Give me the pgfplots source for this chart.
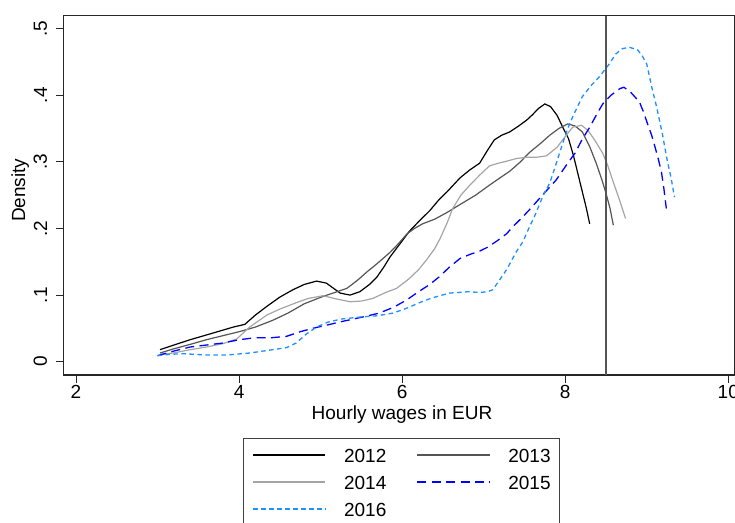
\documentclass[border=0pt]{standalone}
\usepackage{fontspec}
\setmainfont{Liberation Sans}
\usepackage{pgfplots}
\pgfplotsset{compat=1.18}

\definecolor{gsdark}{RGB}{85,85,85}
\definecolor{gslight}{RGB}{165,165,165}
\definecolor{lblue}{RGB}{30,144,255}

\begin{document}
\begin{tikzpicture}
\useasboundingbox (0pt,0pt) rectangle (735pt,522pt);
\begin{axis}[
    at={(63.8pt,147pt)}, anchor=south west,
    scale only axis,
    width=671pt, height=359.3pt,
    xmin=1.85, xmax=10.08,
    ymin=-0.02, ymax=0.5195,
    font=\fontsize{19}{22}\selectfont,
    /pgf/number format/assume math mode=true,
    axis line style={line width=1.1pt, black!85},
    tick pos=left,
    tick align=outside,
    major tick length=8pt,
    tick style={line width=1pt, black!85},
    xtick={2,4,6,8,10},
    ytick={0,0.1,0.2,0.3,0.4,0.5},
    yticklabels={0,.1,.2,.3,.4,.5},
    yticklabel style={rotate=90, anchor=south, inner sep=8.5pt},
    xticklabel style={inner sep=2pt},
    xlabel={Hourly wages in EUR},
    ylabel={Density},
    xlabel style={at={(axis description cs:0.504,0)}, anchor=center, yshift=-40pt},
    ylabel style={at={(axis description cs:-0.065,0.514)}, anchor=center},
    legend columns=2,
    legend image code/.code={\draw[#1, line width=2pt] (0pt,0.5pt) -- (72.3pt,0.5pt);},
    legend style={at={(axis description cs:0.267,-0.1753)}, anchor=north west,
        draw=black!75, line width=0.8pt,
        inner xsep=8.7pt, inner ysep=10.2pt,
        row sep=13.4pt,
        nodes={inner xsep=0pt, inner ysep=0pt, text height=13.6pt, text depth=0pt},
        /tikz/every odd column/.append style={column sep=17.7pt},
        /tikz/every even column/.append style={column sep=30pt}},
]
\addplot[black, line width=1.2pt] coordinates {
(3.03,0.018) (3.2,0.025) (3.4,0.033) (3.68,0.043) (3.93,0.052) (4.07,0.056)
(4.2,0.07) (4.34,0.083) (4.5,0.097) (4.66,0.108) (4.8,0.116) (4.95,0.121)
(5.07,0.118) (5.16,0.11) (5.24,0.103) (5.36,0.1) (5.48,0.105) (5.6,0.116)
(5.69,0.127) (5.78,0.143) (5.85,0.157) (5.93,0.17) (6.01,0.183) (6.09,0.196)
(6.2,0.21) (6.34,0.227) (6.45,0.243) (6.55,0.255) (6.71,0.276) (6.83,0.288)
(6.95,0.298) (7.05,0.318) (7.13,0.333) (7.22,0.34) (7.32,0.345) (7.43,0.354)
(7.53,0.363) (7.6,0.371) (7.67,0.38) (7.75,0.387) (7.82,0.383) (7.9,0.37)
(7.97,0.352) (8.04,0.335) (8.1,0.31) (8.16,0.28) (8.21,0.255) (8.26,0.23)
(8.3,0.207)
};
\addlegendentry{2012}
\addplot[gsdark, line width=1.2pt] coordinates {
(3.03,0.013) (3.19,0.019) (3.4,0.026) (3.6,0.033) (3.8,0.039) (4.0,0.045)
(4.2,0.052) (4.41,0.062) (4.6,0.073) (4.8,0.087) (5.03,0.098) (5.2,0.105)
(5.32,0.11) (5.45,0.122) (5.57,0.135) (5.7,0.148) (5.85,0.164) (5.96,0.178)
(6.06,0.192) (6.15,0.2) (6.25,0.207) (6.4,0.214) (6.55,0.224) (6.71,0.236)
(6.9,0.25) (7.07,0.265) (7.2,0.276) (7.32,0.286) (7.45,0.3) (7.56,0.314)
(7.7,0.328) (7.81,0.34) (7.92,0.35) (8.03,0.357) (8.12,0.354) (8.21,0.345)
(8.3,0.323) (8.38,0.298) (8.45,0.273) (8.5,0.253) (8.55,0.23) (8.59,0.205)
};
\addlegendentry{2013}
\addplot[gslight, line width=1.2pt] coordinates {
(3.03,0.011) (3.19,0.013) (3.4,0.018) (3.6,0.022) (3.8,0.027) (3.97,0.034)
(4.13,0.052) (4.34,0.07) (4.5,0.079) (4.71,0.089) (4.85,0.095) (5.03,0.099)
(5.2,0.094) (5.36,0.09) (5.5,0.091) (5.64,0.095) (5.8,0.104) (5.93,0.11)
(6.08,0.124) (6.2,0.138) (6.3,0.153) (6.4,0.17) (6.47,0.186) (6.55,0.208)
(6.62,0.23) (6.72,0.25) (6.83,0.265) (6.95,0.28) (7.07,0.294) (7.18,0.298)
(7.28,0.301) (7.4,0.305) (7.53,0.307) (7.65,0.307) (7.77,0.309) (7.9,0.322)
(8.0,0.338) (8.09,0.352) (8.2,0.355) (8.28,0.347) (8.36,0.333) (8.46,0.313)
(8.52,0.295) (8.58,0.273) (8.66,0.245) (8.74,0.215)
};
\addlegendentry{2014}
\addplot[blue, line width=1.3pt, dash pattern=on 9pt off 5.4pt] coordinates {
(3.0,0.009) (3.2,0.016) (3.4,0.022) (3.6,0.025) (3.8,0.028) (4.0,0.033)
(4.2,0.036) (4.4,0.036) (4.58,0.038) (4.75,0.045) (4.9,0.05) (5.08,0.055)
(5.25,0.06) (5.4,0.064) (5.55,0.068) (5.72,0.073) (5.9,0.082) (6.06,0.093)
(6.2,0.105) (6.34,0.116) (6.46,0.128) (6.58,0.142) (6.71,0.155) (6.83,0.161)
(6.95,0.166) (7.05,0.172) (7.16,0.181) (7.28,0.192) (7.36,0.203) (7.46,0.215)
(7.56,0.228) (7.72,0.25) (7.89,0.273) (8.03,0.298) (8.12,0.313) (8.2,0.332)
(8.3,0.352) (8.38,0.37) (8.46,0.387) (8.56,0.4) (8.67,0.41) (8.72,0.412)
(8.8,0.405) (8.91,0.39) (8.96,0.375) (9.01,0.357) (9.06,0.34) (9.1,0.323)
(9.14,0.305) (9.18,0.285) (9.21,0.26) (9.24,0.23)
};
\addlegendentry{2015}
\addplot[lblue, line width=1.3pt, dash pattern=on 4.5pt off 3.5pt] coordinates {
(3.0,0.009) (3.15,0.011) (3.31,0.012) (3.6,0.01) (3.85,0.01) (4.13,0.013)
(4.41,0.018) (4.58,0.021) (4.7,0.028) (4.83,0.042) (4.95,0.052) (5.08,0.059)
(5.25,0.064) (5.48,0.067) (5.7,0.069) (5.89,0.073) (6.05,0.08) (6.22,0.089)
(6.35,0.095) (6.46,0.099) (6.58,0.103) (6.7,0.104) (6.8,0.105) (6.95,0.104)
(7.05,0.105) (7.11,0.108) (7.18,0.12) (7.28,0.138) (7.4,0.165) (7.48,0.18)
(7.56,0.202) (7.63,0.22) (7.69,0.238) (7.75,0.255) (7.81,0.268) (7.87,0.29)
(7.93,0.313) (7.98,0.332) (8.03,0.35) (8.1,0.37) (8.21,0.398) (8.32,0.415)
(8.42,0.428) (8.54,0.447) (8.62,0.462) (8.7,0.47) (8.79,0.472) (8.89,0.468)
(8.95,0.458) (9.0,0.447) (9.06,0.413) (9.12,0.383) (9.19,0.343) (9.25,0.303)
(9.3,0.275) (9.34,0.247)
};
\addlegendentry{2016}
\draw[gsdark, line width=1.6pt] (axis cs:8.5,-0.02) -- (axis cs:8.5,0.5195);
\end{axis}
\end{tikzpicture}
\end{document}
